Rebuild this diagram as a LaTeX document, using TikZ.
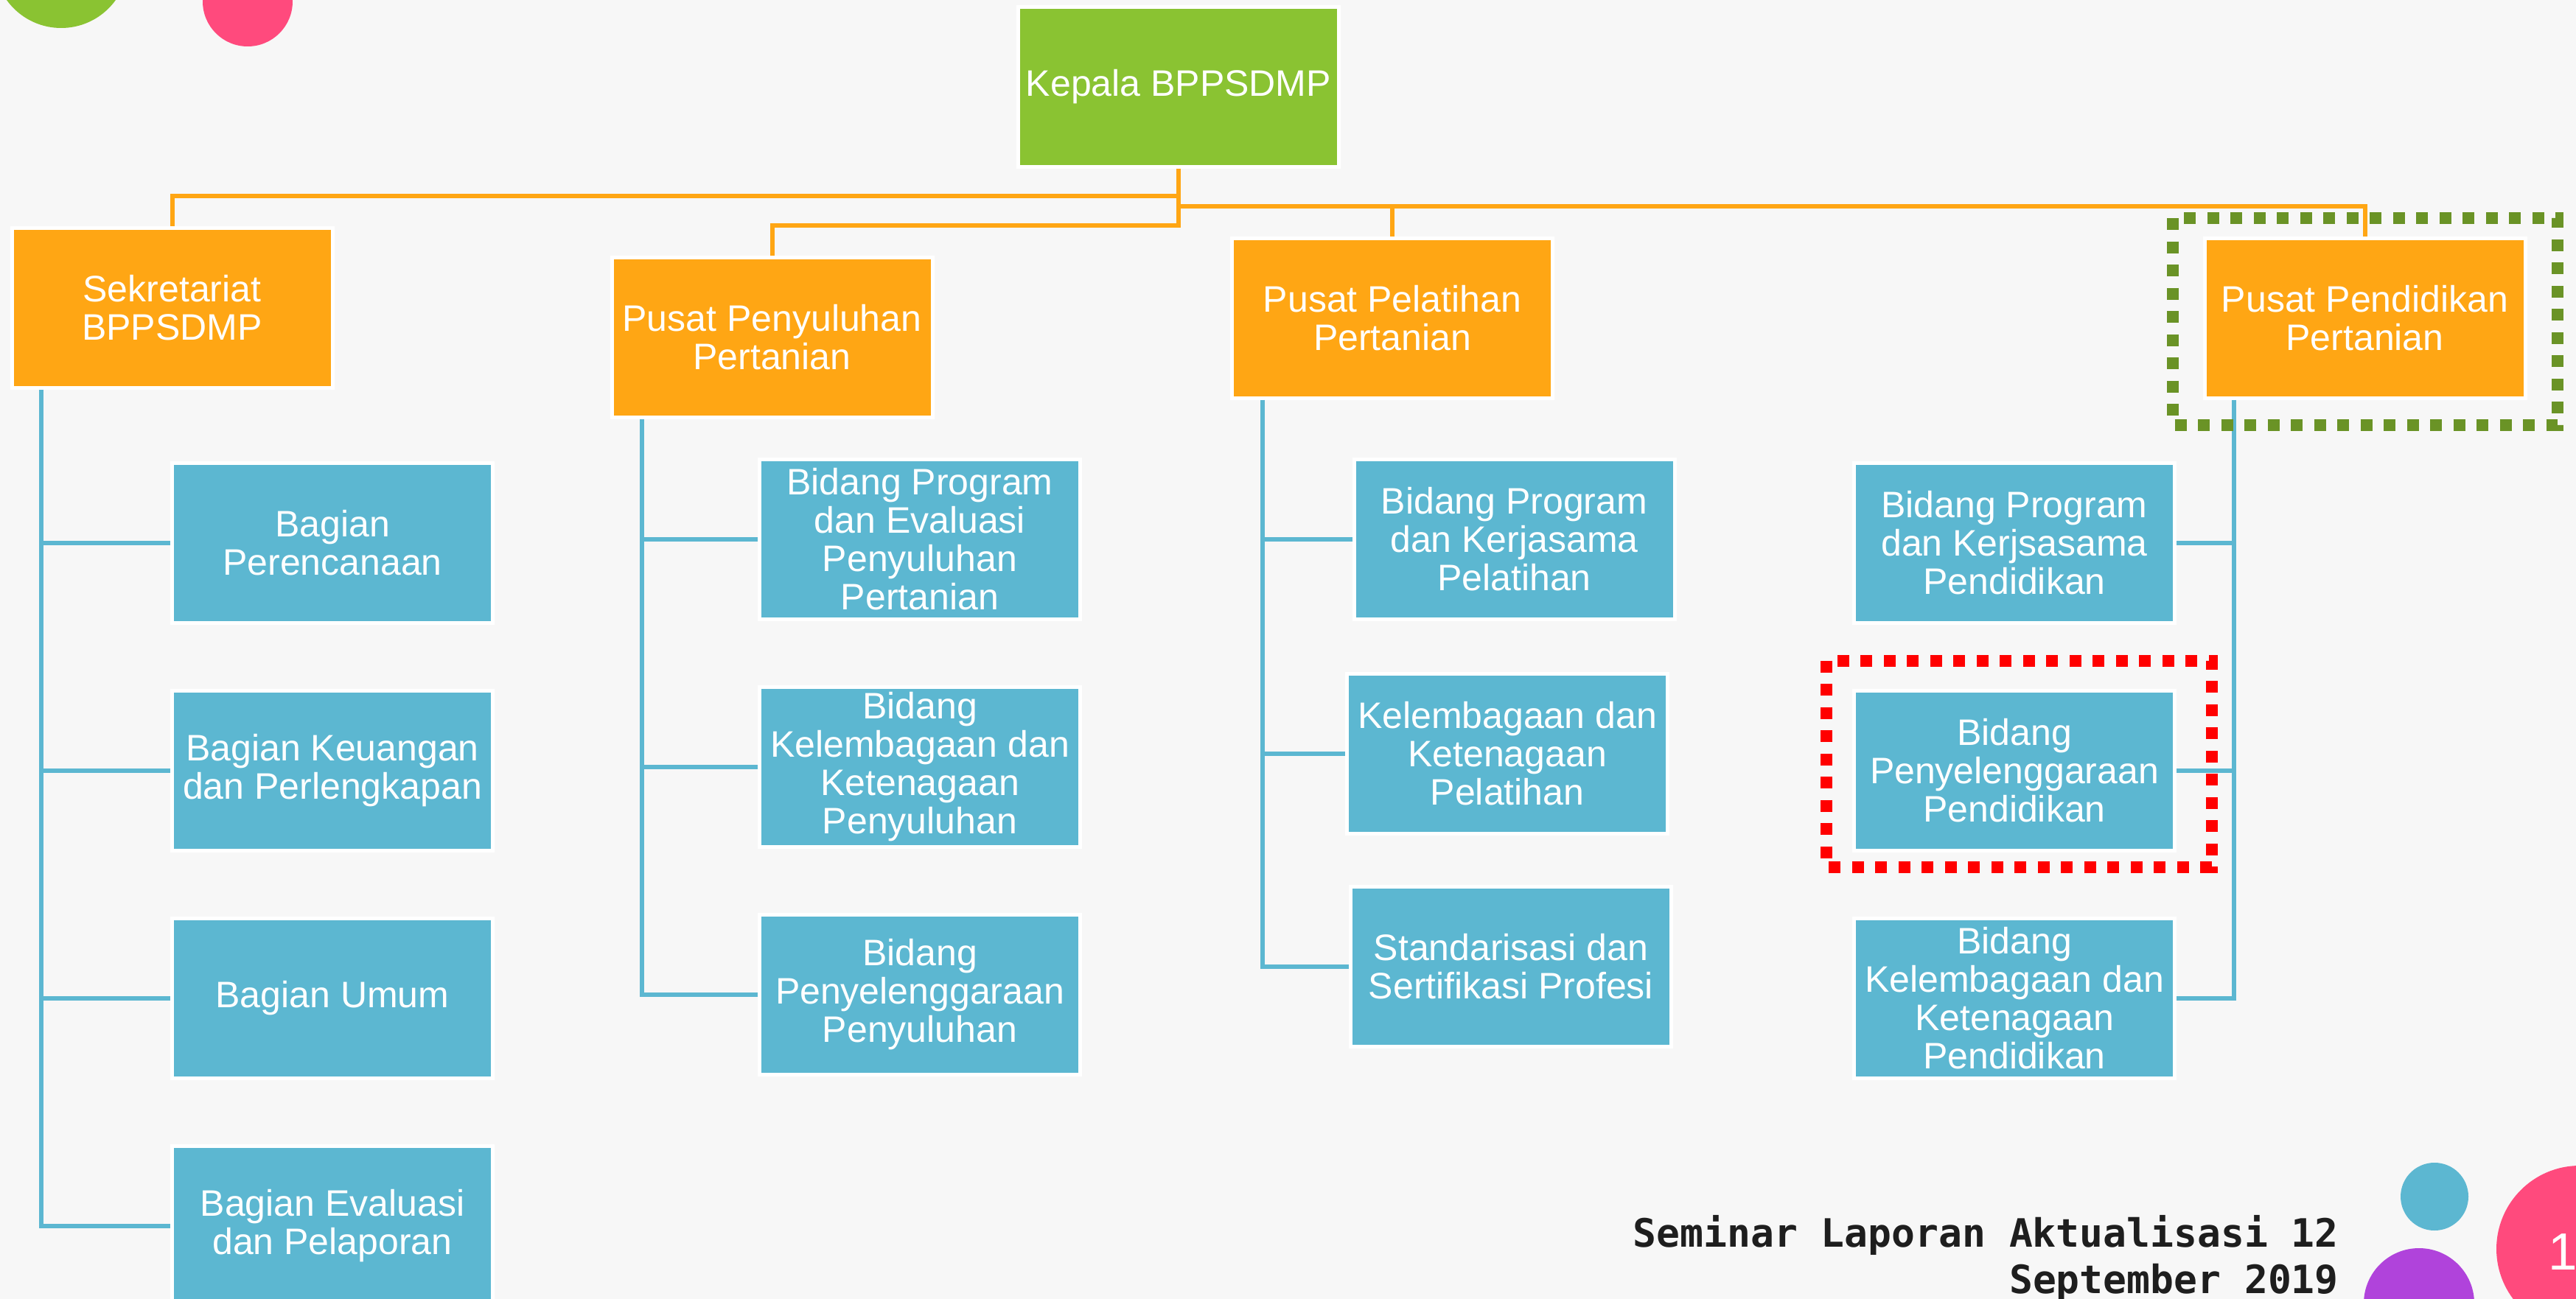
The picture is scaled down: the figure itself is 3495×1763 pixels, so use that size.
\documentclass[tikz,border=0pt]{standalone}
\usepackage{fontspec}
\setmainfont{Liberation Sans}
\newfontfamily\footfont{DejaVu Sans Mono}
\usetikzlibrary{positioning}

\definecolor{slidebg}{RGB}{247,247,247}
\definecolor{kepalagreen}{RGB}{138,195,50}
\definecolor{pusatorange}{RGB}{255,166,20}
\definecolor{bidangblue}{RGB}{92,183,209}
\definecolor{framegreen}{RGB}{106,147,38}
\definecolor{pinkdot}{RGB}{255,74,125}
\definecolor{purpledot}{RGB}{176,67,219}
\definecolor{foottext}{RGB}{30,30,30}

\begin{document}
\begin{tikzpicture}[x=1pt,y=-1pt,on grid,node distance=309pt,
	unit/.style={draw=white,line width=5pt,minimum width=435pt,minimum height=217pt,
		inner sep=0pt,align=center,text=white,font=\fontsize{50}{52}\selectfont},
	kepala/.style={unit,fill=kepalagreen},
	pusat/.style={unit,fill=pusatorange},
	bidang/.style={unit,fill=bidangblue},
	orgline/.style={draw=pusatorange,line width=6pt},
	subline/.style={draw=bidangblue,line width=6pt},
	dotframe/.style={line width=16pt,dash pattern=on 16pt off 15.5pt},
	footer/.style={font=\footfont\bfseries\fontsize{53}{63}\selectfont,text=foottext,
		inner sep=0pt,anchor=base east}]
		
		\useasboundingbox (0,0) rectangle (3495,1763);
		\clip (0,0) rectangle (3495,1763);
		\fill[slidebg] (0,0) rectangle (3495,1763);
		
		% --- Decoration ---
		\fill[kepalagreen] (83,-53) circle[radius=91];
		\fill[pinkdot] (336,2) circle[radius=61];
		\fill[bidangblue] (3303,1624) circle[radius=46];
		\fill[purpledot] (3282,1769) circle[radius=75];
		\fill[pinkdot] (3500,1695) circle[radius=113];
		\node[text=white,font=\fontsize{71}{71}\selectfont,anchor=base west,inner sep=0pt] (slideno) at (3457,1723) {1};
		
		% --- Kepala and Pusat ---
		\node[kepala] (kepala) at (1599,118) {Kepala BPPSDMP};
		\node[pusat]  (sekre)  at (233.5,418) {Sekretariat\\BPPSDMP};
		\node[pusat]  (penyul) at (1047.5,457.5) {Pusat Penyuluhan\\Pertanian};
		\node[pusat]  (pelat)  at (1889,431.5) {Pusat Pelatihan\\Pertanian};
		\node[pusat]  (pendid) at (3208.5,431.5) {Pusat Pendidikan\\Pertanian};
		
		% --- Sekretariat ---
		\node[bidang] (bag1) at (451,737) {Bagian\\Perencanaan};
		\node[bidang] (bag2) [below=of bag1] {Bagian Keuangan\\dan Perlengkapan};
		\node[bidang] (bag3) [below=of bag2] {Bagian Umum};
		\node[bidang] (bag4) [below=of bag3] {Bagian Evaluasi\\dan Pelaporan};
		
		% --- Penyuluhan ---
		\node[bidang] (luh1) at (1248,732) {Bidang Program\\dan Evaluasi\\Penyuluhan\\Pertanian};
		\node[bidang] (luh2) [below=of luh1] {Bidang\\Kelembagaan dan\\Ketenagaan\\Penyuluhan};
		\node[bidang] (luh3) [below=of luh2] {Bidang\\Penyelenggaraan\\Penyuluhan};
		
		% --- Pelatihan ---
		\node[bidang] (lat1) at (2054.5,732) {Bidang Program\\dan Kerjasama\\Pelatihan};
		\node[bidang] (lat2) at (2045,1023) {Kelembagaan dan\\Ketenagaan\\Pelatihan};
		\node[bidang] (lat3) at (2050,1312) {Standarisasi dan\\Sertifikasi Profesi};
		
		% --- Pendidikan ---
		\node[bidang] (dik1) at (2733,737) {Bidang Program\\dan Kerjsasama\\Pendidikan};
		\node[bidang] (dik2) [below=of dik1] {Bidang\\Penyelenggaraan\\Pendidikan};
		\node[bidang] (dik3) [below=of dik2] {Bidang\\Kelembagaan dan\\Ketenagaan\\Pendidikan};
		
		% --- Orange lines ---
		\draw[orgline] (kepala.south) -- ++(0,36.5) -| (sekre.north);
		\draw[orgline] (kepala.south) -- ++(0,76.5) -| (penyul.north);
		\draw[orgline] (kepala.south) -- ++(0,50.5) -| (pendid.north);
		\path (kepala.south) ++(0,50.5) coordinate (bus);
		\draw[orgline] (bus -| pelat.north) -- (pelat.north);
		
		% --- Blue lines ---
		\coordinate (t1) at ([xshift=42.5pt]sekre.south west);
		\draw[subline] (t1) |- (bag4.west);
		\foreach \n in {bag1,bag2,bag3}
		\draw[subline] (t1 |- \n.west) -- (\n.west);
		
		\coordinate (t2) at ([xshift=43.5pt]penyul.south west);
		\draw[subline] (t2) |- (luh3.west);
		\foreach \n in {luh1,luh2}
		\draw[subline] (t2 |- \n.west) -- (\n.west);
		
		\coordinate (t3) at ([xshift=43.5pt]pelat.south west);
		\draw[subline] (t3) |- (lat3.west);
		\foreach \n in {lat1,lat2}
		\draw[subline] (t3 |- \n.west) -- (\n.west);
		
		\coordinate (t4) at ([xshift=42.5pt]pendid.south west);
		\draw[subline] (t4) |- (dik3.east);
		\foreach \n in {dik1,dik2}
		\draw[subline] (t4 |- \n.east) -- (\n.east);
		
		% --- Dotted frames ---
		\draw[dotframe,draw=framegreen] ([shift={(-40.5,-24.5)}]pendid.north west) rectangle ([shift={(41.5,34.5)}]pendid.south east);
		\draw[dotframe,draw=red] ([shift={(-35.5,-38.5)}]dik2.north west) rectangle ([shift={(47.5,19.5)}]dik2.south east);
		
		% --- Footer ---
		\node[footer] (foot1) at (3173,1692) {Seminar Laporan Aktualisasi 12};
		\node[footer] (foot2) at (3173,1755) {September 2019};
	\end{tikzpicture}
\end{document}
